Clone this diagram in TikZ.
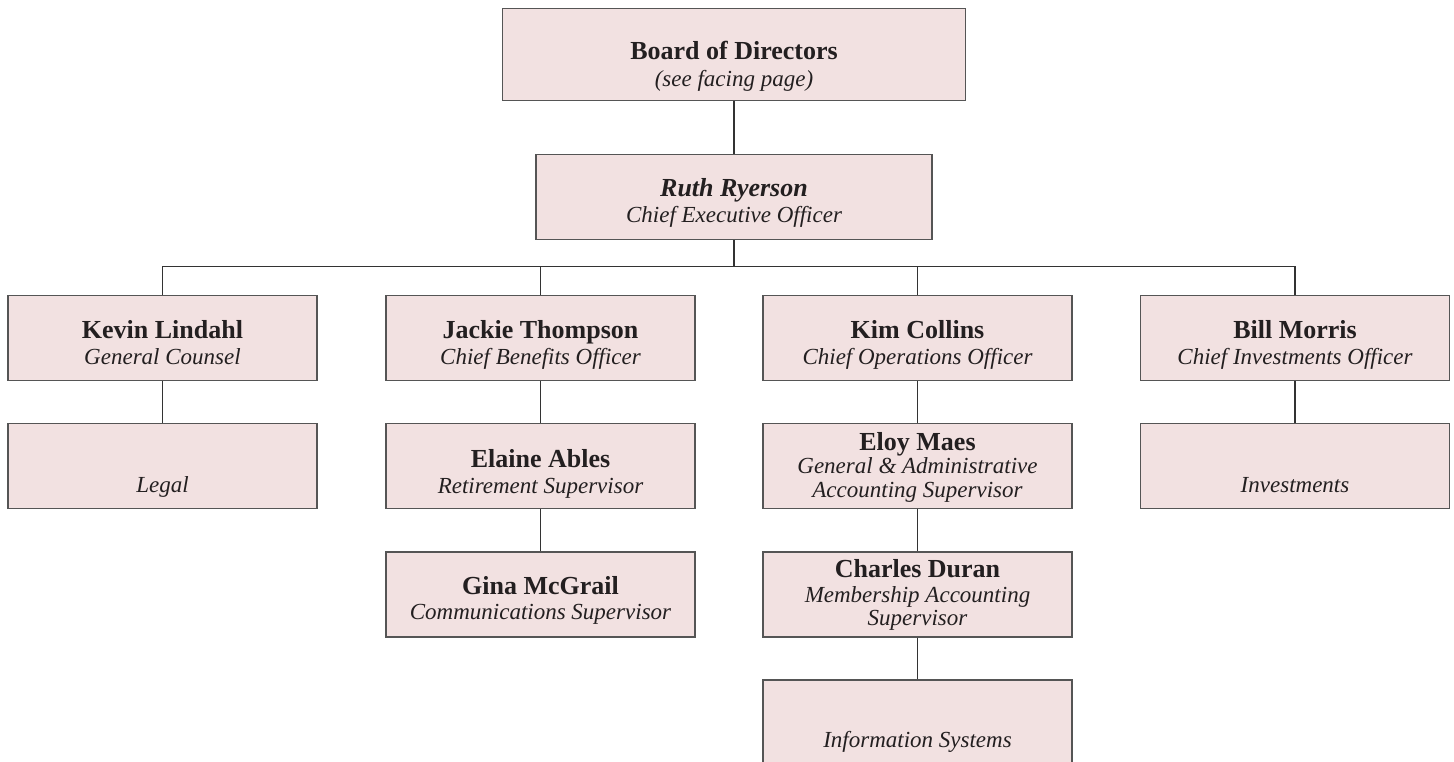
\documentclass[tikz,border=0pt]{standalone}
\usepackage{fontspec}
\setmainfont{Liberation Serif}
\definecolor{boxfill}{HTML}{F2E1E1}
\definecolor{boxline}{HTML}{555555}
\definecolor{conn}{HTML}{333333}
\definecolor{ink}{HTML}{231F20}
\newcommand{\nm}[1]{{\fontsize{26}{29}\selectfont\bfseries #1}}
\newcommand{\ti}[1]{{\fontsize{23}{26}\selectfont\itshape #1}}
\begin{document}
\begin{tikzpicture}[x=1pt,y=-1pt,
  box/.style={draw=boxline, fill=boxfill, line width=1.5pt, anchor=north, minimum width=309pt, minimum height=85pt, inner sep=0pt},
  txt/.style={anchor=base, inner sep=0pt, text=ink},
  link/.style={draw=conn, line width=1.5pt}]
\useasboundingbox (0,0) rectangle (1454,762);
% boxes
\node[box, minimum width=463pt, minimum height=92pt] (board) at (734,8) {};
\node[box, minimum width=396pt] (ceo) at (734,154) {};
\node[box] (kevin) at (162.5,294.5) {};
\node[box] (jackie) at (540.5,294.5) {};
\node[box] (kim) at (917.5,294.5) {};
\node[box] (bill) at (1295,294.5) {};
\node[box] (legal) at (162.5,422.5) {};
\node[box] (elaine) at (540.5,422.5) {};
\node[box] (eloy) at (917.5,422.5) {};
\node[box] (invest) at (1295,422.5) {};
\node[box] (gina) at (540.5,551) {};
\node[box] (charles) at (917.5,551) {};
\node[box] (info) at (917.5,679) {};
% texts
\node[txt] (t1a) at (734,60) {\nm{Board of Directors}};
\node[txt] (t1b) at (734,87) {\ti{(see facing page)}};
\node[txt] (t2a) at (734,197) {{\fontsize{26}{29}\selectfont\bfseries\itshape Ruth Ryerson}};
\node[txt] (t2b) at (734,223) {\ti{Chief Executive Officer}};
\node[txt] (t3a) at (162.5,338) {\nm{Kevin Lindahl}};
\node[txt] (t3b) at (162.5,364) {\ti{General Counsel}};
\node[txt] (t4a) at (540.5,338) {\nm{Jackie Thompson}};
\node[txt] (t4b) at (540.5,364) {\ti{Chief Benefits Officer}};
\node[txt] (t5a) at (917.5,338) {\nm{Kim Collins}};
\node[txt] (t5b) at (917.5,364) {\ti{Chief Operations Officer}};
\node[txt] (t6a) at (1295,338) {\nm{Bill Morris}};
\node[txt] (t6b) at (1295,364) {\ti{Chief Investments Officer}};
\node[txt] (t7) at (162.5,492) {\ti{Legal}};
\node[txt] (t8a) at (540.5,467) {\nm{Elaine Ables}};
\node[txt] (t8b) at (540.5,493) {\ti{Retirement Supervisor}};
\node[txt] (t9a) at (917.5,450) {\nm{Eloy Maes}};
\node[txt] (t9b) at (917.5,473) {\ti{General \& Administrative}};
\node[txt] (t9c) at (917.5,497) {\ti{Accounting Supervisor}};
\node[txt] (t10) at (1295,492) {\ti{Investments}};
\node[txt] (t11a) at (540.5,594) {\nm{Gina McGrail}};
\node[txt] (t11b) at (540.5,619) {\ti{Communications Supervisor}};
\node[txt] (t12a) at (917.5,577) {\nm{Charles Duran}};
\node[txt] (t12b) at (917.5,602) {\ti{Membership Accounting}};
\node[txt] (t12c) at (917.5,625) {\ti{Supervisor}};
\node[txt] (t13) at (917.5,747) {\ti{Information Systems}};
% connectors
\coordinate (bus) at (734,266.5);
\draw[link] (board.south) -- (ceo.north);
\draw[link] (ceo.south) -- (bus);
\draw[link] (kevin.north) |- (bus) -| (bill.north);
\draw[link] (jackie.north) -- (jackie.north |- bus);
\draw[link] (kim.north) -- (kim.north |- bus);
\draw[link] (kevin.south) -- (legal.north);
\draw[link] (jackie.south) -- (elaine.north);
\draw[link] (elaine.south) -- (gina.north);
\draw[link] (kim.south) -- (eloy.north);
\draw[link] (eloy.south) -- (charles.north);
\draw[link] (charles.south) -- (info.north);
\draw[link] (bill.south) -- (invest.north);
\end{tikzpicture}
\end{document}
